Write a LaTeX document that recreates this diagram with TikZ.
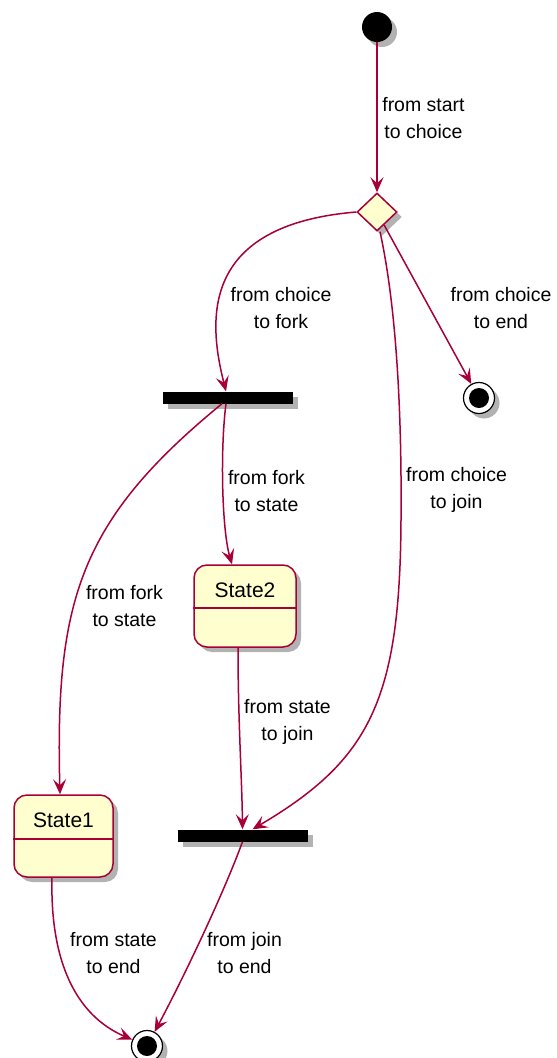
\documentclass[tikz,border=0pt]{standalone}
\usepackage{fontspec}
\setmainfont{Liberation Sans}
\usetikzlibrary{shapes.geometric,arrows.meta,shadows}
\definecolor{pborder}{HTML}{A80036}
\definecolor{pfill}{HTML}{FEFECE}
\tikzset{
  shad/.style={drop shadow={shadow xshift=5pt,shadow yshift=-5pt,fill=black,opacity=0.3}},
  edge/.style={draw=pborder,line width=1.5pt,-{Stealth[length=15pt,width=13pt,inset=6pt]}},
  lbl/.style={align=center,font=\fontsize{19.5}{27}\selectfont,inner sep=0pt},
  startnode/.style={circle,fill=black,minimum size=30pt,inner sep=0pt,shad},
  endouter/.style={circle,draw=black,line width=1.2pt,fill=white,minimum size=31pt,inner sep=0pt,shad},
  endinner/.style={circle,fill=black,minimum size=20pt,inner sep=0pt},
  choicenode/.style={diamond,draw=pborder,fill=pfill,line width=1.5pt,minimum width=40pt,minimum height=38pt,inner sep=0pt,shad},
  barnode/.style={rectangle,fill=black,minimum width=130pt,minimum height=12pt,inner sep=0pt,shad},
  statenode/.style={rectangle,rounded corners=13pt,draw=pborder,fill=pfill,line width=1.5pt,minimum height=82pt,inner sep=0pt,shad},
  statename/.style={font=\fontsize{21}{25}\selectfont,inner sep=0pt},
}
\begin{document}
\begin{tikzpicture}[x=1pt,y=-1pt]
\useasboundingbox (0,0) rectangle (557,1058);
% nodes
\node[startnode] (start) at (377,27) {};
\node[choicenode] (choice) at (377,212) {};
\node[barnode] (fork) at (228,397.5) {};
\node[barnode] (join) at (242.5,835.5) {};
\node[endouter] (endA) at (479,398) {};
\node[endinner] (endAi) at (479,398) {};
\node[endouter] (endB) at (147,1046) {};
\node[endinner] (endBi) at (147,1046) {};
\node[statenode,minimum width=102pt] (s2) at (245,606) {};
\draw[draw=pborder,line width=1.5pt] ([yshift=-2pt]s2.west) -- ([yshift=-2pt]s2.east);
\node[statename] (s2name) at (245,590) {State2};
\node[statenode,minimum width=99pt] (s1) at (63.5,836) {};
\draw[draw=pborder,line width=1.5pt] ([yshift=-3pt]s1.west) -- ([yshift=-3pt]s1.east);
\node[statename] (s1name) at (63.5,820) {State1};
% anchor coordinates
\coordinate (forkin) at ([xshift=-2pt]fork.north);
\coordinate (forkoutA) at ([xshift=-2pt]fork.south);
\coordinate (forkoutB) at ([xshift=-6pt]fork.south);
\coordinate (joinA) at ([xshift=10pt]join.north);
\coordinate (joinB) at ([xshift=0pt]join.north);
\coordinate (joinout) at ([xshift=0pt]join.south);
\coordinate (s2top) at ([xshift=-13pt]s2.north);
\coordinate (s2bot) at ([xshift=-7pt]s2.south);
\coordinate (s1top) at ([xshift=-3.5pt]s1.north);
\coordinate (s1bot) at ([xshift=-11.5pt]s1.south);
% edges
\draw[edge] (start) -- (choice.north);
\draw[edge] (choice.west) .. controls (200,225) and (208,320) .. (forkin);
\draw[edge] (choice) -- (endA);
\draw[edge] ([xshift=3pt]choice.south) .. controls (395,300) and (402,400) .. (401,520) .. controls (400,700) and (370,760) .. (joinA);
\draw[edge] (forkoutA) .. controls (220,450) and (222,530) .. (s2top);
\draw[edge] (forkoutB) .. controls (80,520) and (55,600) .. (s1top);
\draw[edge] (s2bot) .. controls (238,720) and (242,780) .. (joinB);
\draw[edge] (s1bot) .. controls (50,960) and (75,1015) .. (endB);
\draw[edge] (joinout) .. controls (225,890) and (185,975) .. (endB);
% labels
\node[lbl] (l1) at (423.5,118) {from start\\to choice};
\node[lbl] (l2) at (281,308) {from choice\\to fork};
\node[lbl] (l3) at (501,308) {from choice\\to end};
\node[lbl] (l4) at (456.5,490) {from choice\\to join};
\node[lbl] (l5) at (266.5,491) {from fork\\to state};
\node[lbl] (l6) at (124.5,606) {from fork\\to state};
\node[lbl] (l7) at (287.5,722) {from state\\to join};
\node[lbl] (l8) at (113.5,953) {from state\\to end};
\node[lbl] (l9) at (244.5,953) {from join\\to end};
\end{tikzpicture}
\end{document}
